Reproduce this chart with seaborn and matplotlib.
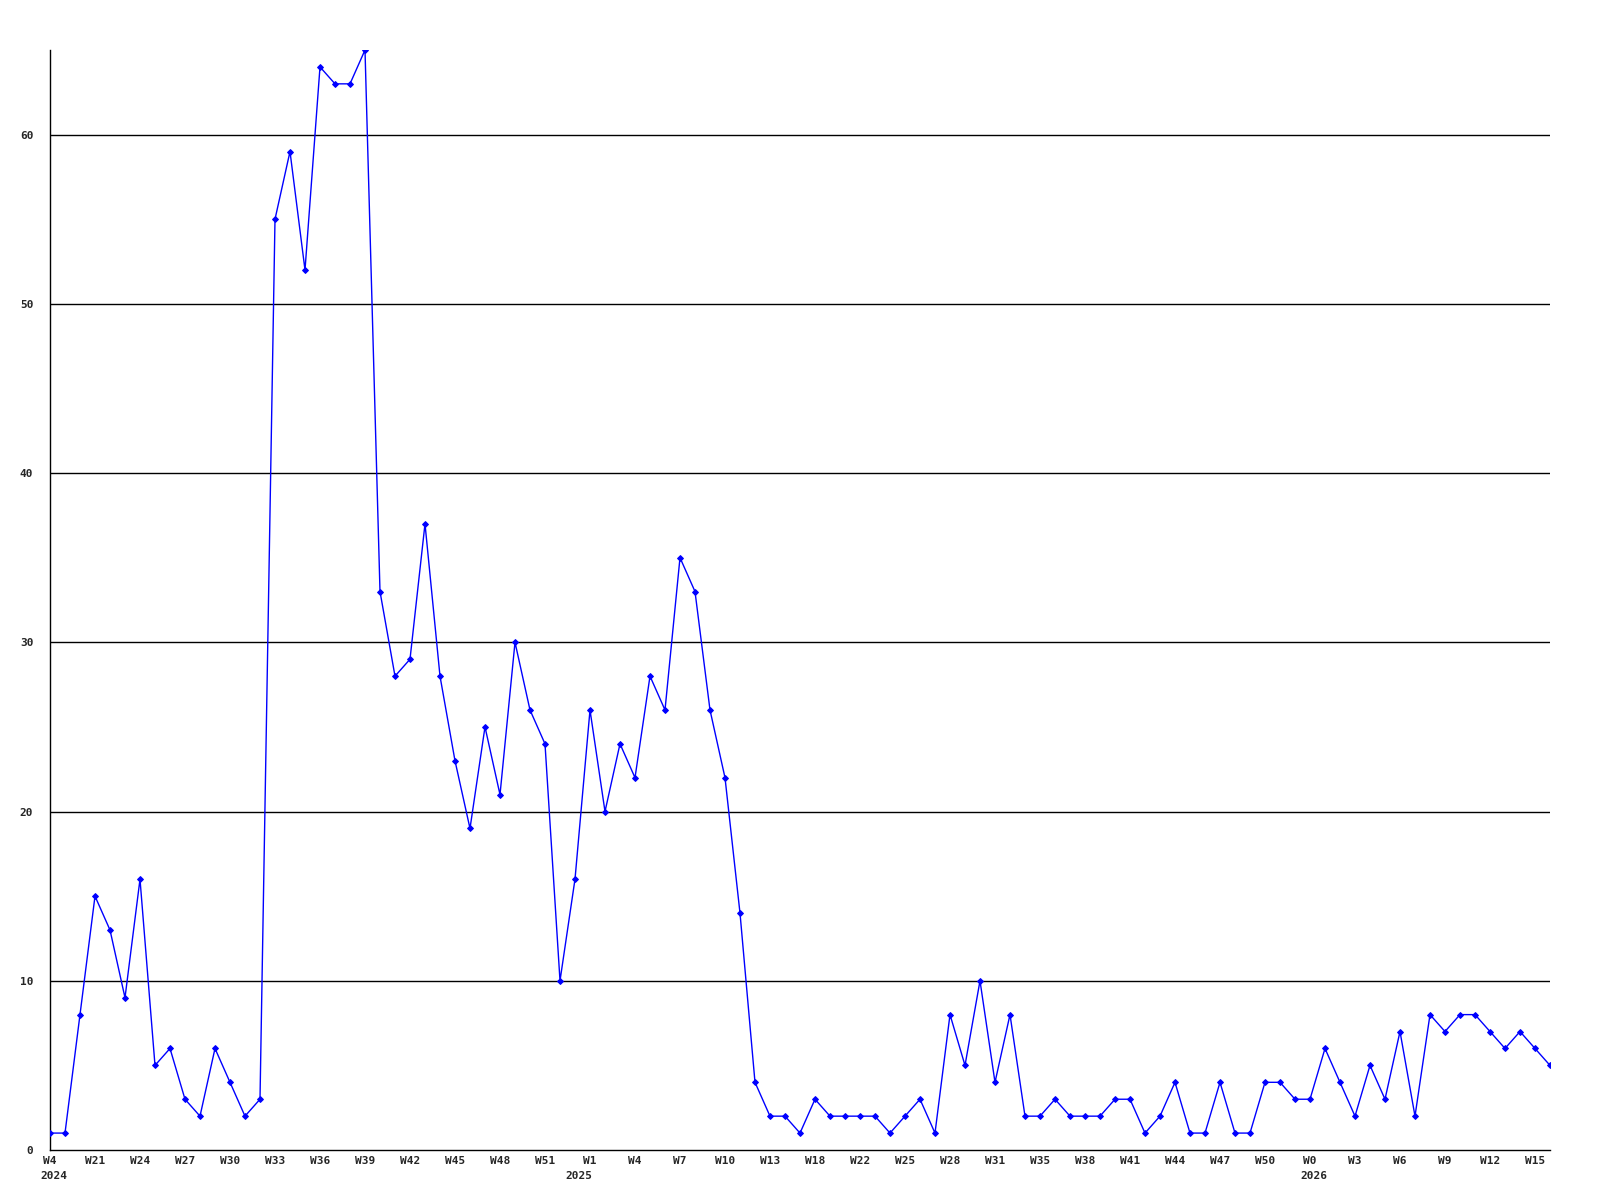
import matplotlib
matplotlib.use("Agg")
import matplotlib.pyplot as plt
import seaborn as sns
import pandas as pd
import numpy as np

values = [1, 1, 8, 15, 13, 9, 16, 5, 6, 3, 2, 6, 4, 2, 3,
          55, 59, 52, 64, 63, 63, 65, 33, 28, 29, 37, 28, 23, 19, 25,
          21, 30, 26, 24, 10, 16, 26, 20, 24, 22, 28, 26, 35, 33, 26,
          22, 14, 4, 2, 2, 1, 3, 2, 2, 2, 2, 1, 2, 3, 1,
          8, 5, 10, 4, 8, 2, 2, 3, 2, 2, 2, 3, 3, 1, 2,
          4, 1, 1, 4, 1, 1, 4, 4, 3, 3, 6, 4, 2, 5, 3,
          7, 2, 8, 7, 8, 8, 7, 6, 7, 6, 5]

tick_labels = ["W4", "W21", "W24", "W27", "W30", "W33", "W36", "W39",
               "W42", "W45", "W48", "W51", "W1", "W4", "W7", "W10",
               "W13", "W18", "W22", "W25", "W28", "W31", "W35", "W38", "W41",
               "W44", "W47", "W50", "W0", "W3", "W6", "W9", "W12", "W15"]

years = ["2024", "2025", "2026"]
year_tick_index = [0, 12, 28]

y_ticks = [0, 10, 20, 30, 40, 50, 60]

sns.set_theme(style="white")
plt.rcParams['font.family'] = ['DejaVu Sans Mono']

df = pd.DataFrame({"idx": np.arange(len(values)), "count": values})

fig = plt.figure(figsize=(16, 12), dpi=100)
ax = fig.add_axes([50/1600, 1 - 1150/1200, 1500/1600, 1100/1200])

for y in y_ticks[1:]:
    ax.axhline(y, color="black", linewidth=1.0, zorder=1)

sns.lineplot(data=df, x="idx", y="count", ax=ax, color="#0000FF",
             linewidth=1.0, marker="D", markersize=3,
             markeredgecolor="#0000FF", markerfacecolor="#0000FF", zorder=3)

ax.set_xlim(0, len(values) - 1)
ax.set_ylim(0, 65)
xt = np.arange(0, len(tick_labels) * 3, 3)
ax.set_xticks(xt)
ax.set_xticklabels(tick_labels, fontsize=8, fontweight="bold")
ax.set_yticks(y_ticks)
ax.set_yticklabels([str(v) for v in y_ticks], fontsize=8, fontweight="bold")
ax.tick_params(axis="x", length=0, pad=4)
ax.tick_params(axis="y", length=0, pad=12)

# year labels below the tick labels
offsets = {"2024": (-7, "left"), "2025": (2, "right"), "2026": (-7, "left")}
for yr, ti in zip(years, year_tick_index):
    dx, ha = offsets[yr]
    ax.annotate(yr, xy=(xt[ti], 0), xycoords=("data", "axes fraction"),
                xytext=(dx, -19), textcoords="offset points",
                ha=ha, va="center", fontsize=8, fontweight="bold")

ax.set_xlabel("")
ax.set_ylabel("")
for s in ["top", "right"]:
    ax.spines[s].set_visible(False)
for s in ["left", "bottom"]:
    ax.spines[s].set_color("black")
    ax.spines[s].set_linewidth(1.0)
ax.grid(False)

fig.savefig("out.png", dpi=100, facecolor="white")
